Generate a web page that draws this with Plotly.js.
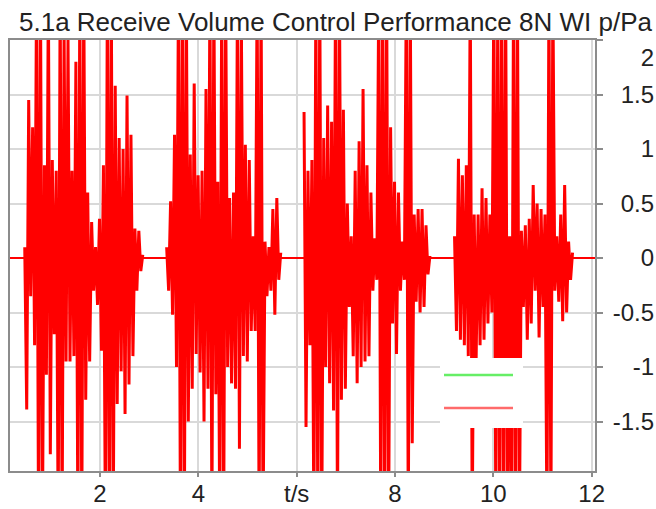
<!DOCTYPE html>
<html>
<head>
<meta charset="utf-8">
<script src="https://cdn.plot.ly/plotly-3.0.1.min.js"></script>
<style>html,body{margin:0;padding:0;background:#fff;}#chart{width:656px;height:509px;}</style>
</head>
<body>
<div id="chart"></div>
<script>
// Waveform p/Pa, decimated samples every 0.04 s (values beyond the axis are clipped)
const sampleStep = 0.04;
const segStarts = [0.47, 3.356, 6.15, 9.21];
const segA = [0.1,-1.39,1.45,-0.35,1.2,-0.8,2.5,-2.5,2.5,-2.5,0.85,-1.07,2.5,-1.8,0.9,-0.7,0.8,-2.5,2.5,-2.5,
  2.1,-0.95,2.0,-0.95,0.8,-0.9,1.8,-2.5,2.5,-2.5,2.5,-1.3,0.6,-0.95,0.33,-0.3,0.1,-0.43,0.36,-0.85,
  0.85,-2.5,2.5,-2.5,2.5,-2.5,1.58,-1.34,1.1,-1.04,1.0,-1.43,1.49,-1.16,1.13,-0.9,0.27,-0.3,0.25,-0.12,0.03];
const segB = [0.1,-0.3,0.52,-0.52,1.13,-1.0,2.5,-2.5,2.5,-2.5,2.5,-1.5,0.95,-1.2,1.6,-0.88,0.76,-1.05,0.8,-1.5,
  1.55,-1.2,2.5,-2.5,2.5,-1.25,0.7,-2.5,2.5,-2.5,2.5,-1.0,0.55,-1.15,0.6,-1.2,2.5,-1.75,2.1,-0.9,
  1.04,-0.95,0.9,-0.67,0.2,-0.67,2.5,-2.5,2.5,-2.5,0.15,-0.35,0.1,-0.3,0.45,-0.52,0.55,-0.2,0.05];
const segC = [1.34,-1.55,0.8,-0.8,0.9,-2.5,2.5,-2.5,2.5,-2.5,1.1,-1.0,1.4,-1.15,1.25,-1.4,2.5,-2.5,2.5,-1.3,
  1.36,-1.2,0.5,-0.45,0.2,-0.9,0.8,-1.15,1.07,-1.0,1.55,-0.95,0.85,-0.9,0.6,-0.3,0.18,-0.2,2.5,-2.5,
  2.5,-2.5,2.5,-2.5,1.2,-0.6,0.7,-0.88,0.6,-0.3,0.15,-0.2,2.5,-2.5,2.5,-1.7,0.4,-0.4,0.45,-0.5,
  0.45,-0.45,0.3,-0.15,0.02];
const segD = [0.2,-0.67,0.91,-0.75,0.76,-0.8,0.85,-0.9,2.5,-2.5,0.4,-0.92,0.4,-0.8,0.64,-0.75,0.55,-0.6,0.4,-0.5,
  2.5,-2.5,2.5,-2.5,2.5,-2.5,2.5,-2.5,0.2,-2.5,2.5,-2.5,2.5,-2.5,0.25,-0.45,0.3,-0.75,0.36,-0.6,
  0.67,-0.3,0.5,-0.73,0.45,-0.45,0.4,-2.5,2.5,-2.5,2.5,-0.3,0.2,-0.4,0.4,-0.58,0.67,-0.5,0.15,-0.2,0.05];
const segments = [segA, segB, segC, segD];

const xTickVals = [2, 4, 6, 8, 10, 12];
const xTickText = ['2', '4', 't/s', '8', '10', '12'];
const yTickVals = [1.843, 1.5, 1, 0.5, 0, -0.5, -1, -1.5];
const yTickText = ['2', '1.5', '1', '0.5', '0', '-0.5', '-1', '-1.5'];

const xRange = [0.17, 12.067];
const yRange = [-1.954, 2];

const wx = [], wy = [];
segments.forEach((seg, k) => {
  const t0 = segStarts[k];
  seg.forEach((v, i) => { wx.push(t0 + i * sampleStep); wy.push(v); });
  wx.push(null); wy.push(null);
});

const font = 'Liberation Sans, Arial, sans-serif';
const grid = '#d9d9d9';
const frame = '#8c8c8c';

const traces = [
  {x: xRange, y: [0, 0], type: 'scatter', mode: 'lines', yaxis: 'y',
   line: {color: '#66ee66', width: 2}, hoverinfo: 'skip', showlegend: false},
  {x: xRange, y: [0, 0], type: 'scatter', mode: 'lines', yaxis: 'y2',
   line: {color: '#ff0000', width: 2}, hoverinfo: 'skip', showlegend: false},
  {x: wx, y: wy, type: 'scatter', mode: 'lines', yaxis: 'y2', connectgaps: false,
   line: {color: '#ff0000', width: 3, simplify: false}, hoverinfo: 'skip', showlegend: false}
];

const layout = {
  width: 656, height: 509,
  margin: {l: 10, r: 2, t: 40, b: 38, pad: 0},
  paper_bgcolor: '#ffffff', plot_bgcolor: '#ffffff',
  showlegend: false,
  title: {text: '5.1a Receive Volume Control Performance 8N WI p/Pa',
          font: {family: font, size: 26, color: '#222'},
          x: 19/656, xanchor: 'left', xref: 'container',
          y: 1 - 22/509, yanchor: 'middle', yref: 'container'},
  xaxis: {domain: [0, 585/644], range: xRange, tickvals: xTickVals, ticktext: xTickText,
          ticks: 'outside', ticklen: 4, tickwidth: 2, tickcolor: frame, ticklabelstandoff: -4,
          showgrid: true, gridcolor: grid, gridwidth: 2, zeroline: false,
          showline: true, linecolor: frame, linewidth: 2, mirror: true,
          tickfont: {family: font, size: 24, color: '#222'}, fixedrange: true},
  yaxis: {range: yRange, side: 'right', dtick: 0.5, tick0: 0, showticklabels: false,
          ticks: 'outside', ticklen: 6, tickwidth: 2, tickcolor: frame,
          showgrid: true, gridcolor: grid, gridwidth: 2, zeroline: false,
          showline: true, linecolor: frame, linewidth: 2, mirror: true, fixedrange: true},
  yaxis2: {range: yRange, overlaying: 'y', anchor: 'free', position: 1, side: 'left',
           tickvals: yTickVals, ticktext: yTickText, ticks: '', showgrid: false,
           showline: false, zeroline: false,
           tickfont: {family: font, size: 24, color: '#222'}, fixedrange: true},
  shapes: [
    {type: 'rect', xref: 'paper', yref: 'paper', x0: (440-10)/644, x1: (523-10)/644,
     y0: (471-428)/431, y1: (471-358)/431, fillcolor: '#ffffff', line: {width: 0}, layer: 'above'},
    {type: 'line', xref: 'paper', yref: 'paper', x0: (444-10)/644, x1: (513-10)/644,
     y0: (471-375)/431, y1: (471-375)/431, line: {color: '#66ee66', width: 2.5}, layer: 'above'},
    {type: 'line', xref: 'paper', yref: 'paper', x0: (444-10)/644, x1: (513-10)/644,
     y0: (471-408)/431, y1: (471-408)/431, line: {color: '#ff6b6b', width: 2.5}, layer: 'above'}
  ]
};

Plotly.newPlot('chart', traces, layout, {staticPlot: true, displayModeBar: false});
</script>
</body>
</html>
